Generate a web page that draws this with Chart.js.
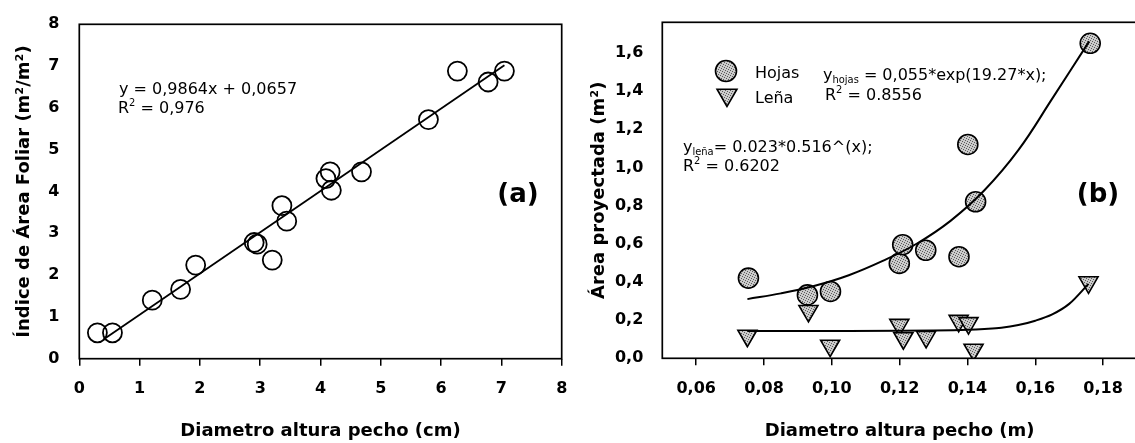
<!DOCTYPE html>
<html>
<head>
<meta charset="utf-8">
<script src="https://cdn.jsdelivr.net/npm/chart.js@4.4.1/dist/chart.umd.min.js"></script>
<style>
  html, body { margin: 0; padding: 0; background: #fff; overflow: hidden; width: 1135px; height: 443px; }
  canvas { position: absolute; top: 0; }
  #chartA { left: 0; }
  #chartB { left: 575px; }
</style>
</head>
<body>
<canvas id="chartA" width="575" height="443"></canvas>
<canvas id="chartB" width="575" height="443"></canvas>
<script>
// (a) indice de area foliar vs DAP
const DAP_CM = [0.30, 0.55, 1.21, 1.68, 1.93, 2.90, 2.95, 3.20, 3.36, 3.44, 4.09, 4.16, 4.18, 4.68, 5.79, 6.27, 6.78, 7.05];
const IAF = [0.62, 0.62, 1.40, 1.66, 2.24, 2.78, 2.74, 2.36, 3.66, 3.29, 4.31, 4.47, 4.03, 4.47, 5.72, 6.88, 6.62, 6.88];
const TREND_A_X = [0.40, 7.05];
const TREND_A_Y = [0.46, 7.02];
const TICKS_A = [0, 1, 2, 3, 4, 5, 6, 7, 8];

// (b) area proyectada vs DAP
const DAP_HOJAS = [0.0754, 0.0928, 0.0996, 0.1199, 0.1209, 0.1277, 0.1375, 0.1401, 0.1424, 0.1762];
const AREA_HOJAS = [0.42, 0.332, 0.35, 0.497, 0.595, 0.566, 0.532, 1.12, 0.82, 1.65];
const DAP_LENA = [0.0751, 0.0931, 0.0995, 0.1199, 0.1211, 0.1278, 0.1374, 0.1403, 0.1418, 0.1757];
const AREA_LENA = [0.118, 0.248, 0.066, 0.175, 0.105, 0.112, 0.196, 0.184, 0.045, 0.398];
const CURVE_HOJAS_X = [0.0751, 0.085, 0.095, 0.105, 0.115, 0.125, 0.135, 0.145, 0.155, 0.165, 0.1759];
const CURVE_HOJAS_Y = [0.31, 0.34, 0.38, 0.435, 0.51, 0.60, 0.72, 0.88, 1.09, 1.36, 1.66];
const CURVE_LENA_X = [0.0751, 0.09, 0.105, 0.12, 0.13, 0.14, 0.145, 0.15, 0.155, 0.16, 0.165, 0.17, 0.1757];
const CURVE_LENA_Y = [0.143, 0.143, 0.143, 0.144, 0.146, 0.15, 0.154, 0.16, 0.174, 0.197, 0.23, 0.285, 0.39];
const TICKS_BX = [0.06, 0.08, 0.10, 0.12, 0.14, 0.16, 0.18];
const TICKS_BY = [0, 0.2, 0.4, 0.6, 0.8, 1.0, 1.2, 1.4, 1.6];

const FONT = "'DejaVu Sans', sans-serif";
Chart.defaults.font.family = FONT;
Chart.defaults.color = "#000";
Chart.defaults.animation = false;

const pts = (xs, ys) => xs.map((x, i) => ({ x, y: ys[i] }));

// punteado gris de los simbolos
function stipple() {
  const c = document.createElement("canvas");
  c.width = 5; c.height = 5;
  const g = c.getContext("2d");
  g.fillStyle = "#cbcbcb";
  g.fillRect(0, 0, 5, 5);
  g.fillStyle = "#5a5a5a";
  [[0, 0], [2, 1], [4, 2], [1, 3], [3, 4]].forEach(([x, y]) => g.fillRect(x, y, 1, 1));
  return g.createPattern(c, "repeat");
}
const GRAY = stipple();

// texto con super/subindices: partes [texto, "n" | "sup" | "sub"]
function richText(ctx, x, y, parts, size) {
  let cx = x;
  ctx.textBaseline = "alphabetic";
  ctx.textAlign = "left";
  parts.forEach(([t, kind]) => {
    let s = size, dy = 0;
    if (kind === "sup") { s = size * 0.62; dy = -size * 0.42; }
    if (kind === "sub") { s = size * 0.62; dy = size * 0.2; }
    ctx.font = s + "px " + FONT;
    ctx.fillText(t, cx, y + dy);
    cx += ctx.measureText(t).width;
  });
}

function mark(ctx, style, x, y, r, rot) {
  ctx.save();
  ctx.fillStyle = GRAY;
  ctx.strokeStyle = "#000";
  ctx.lineWidth = 1.6;
  Chart.helpers.drawPoint(ctx, { pointStyle: style, radius: r, rotation: rot, borderWidth: 1.6 }, x, y);
  ctx.restore();
}

const framePlugin = {
  id: "frame",
  afterDatasetsDraw(chart) {
    const { ctx, chartArea: a } = chart;
    ctx.save();
    ctx.strokeStyle = "#000";
    ctx.lineWidth = 1.7;
    ctx.strokeRect(a.left, a.top, a.right - a.left, a.bottom - a.top);
    ctx.restore();
  },
};

function labelPlugin(draw) {
  return { id: "labels", afterDraw(chart) { const ctx = chart.ctx; ctx.save(); ctx.fillStyle = "#000"; draw(ctx); ctx.restore(); } };
}

// la separacion de las etiquetas va en lineHeight; el margen lateral lo fija layout.padding
function axisX(min, max, ticks, fmt, title, h) {
  return {
    type: "linear", min, max,
    afterBuildTicks: (s) => { s.ticks = ticks.map((v) => ({ value: v })); },
    afterFit: (s) => { s.height = h; s.paddingLeft = 0; s.paddingRight = 0; },
    ticks: { font: { size: 16, weight: "bold", lineHeight: 2.95 }, padding: 0, maxRotation: 0, autoSkip: false, callback: fmt },
    grid: { display: true, drawOnChartArea: false, drawTicks: true, tickLength: 7, color: "#000", lineWidth: 1.5 },
    border: { display: false },
    title: { display: true, text: title, font: { size: 18, weight: "bold" }, padding: { top: 0, bottom: 1 } },
  };
}

function axisY(min, max, ticks, fmt, title, w, pad, tpad) {
  return {
    type: "linear", min, max,
    afterBuildTicks: (s) => { s.ticks = ticks.map((v) => ({ value: v })); },
    afterFit: (s) => { s.width = w; },
    ticks: { font: { size: 16, weight: "bold" }, padding: pad, autoSkip: false, callback: fmt },
    grid: { display: false },
    border: { display: false },
    title: { display: true, text: title, font: { size: 18, weight: "bold" }, padding: { top: tpad, bottom: 0 } },
  };
}

const baseOptions = {
  responsive: false,
  devicePixelRatio: 1,
  plugins: { legend: { display: false }, tooltip: { enabled: false } },
};

// ---- (a)
new Chart(document.getElementById("chartA"), {
  type: "scatter",
  data: {
    datasets: [
      {
        data: pts(TREND_A_X, TREND_A_Y), showLine: true, pointRadius: 0,
        borderColor: "#000", borderWidth: 1.8, order: 0,
      },
      {
        data: pts(DAP_CM, IAF), pointRadius: 9.5, pointStyle: "circle",
        backgroundColor: "rgba(0,0,0,0)", borderColor: "#000", borderWidth: 1.8, order: 1,
      },
    ],
  },
  options: {
    ...baseOptions,
    layout: { padding: { left: 0, top: 24.3, right: 13.3, bottom: 0 } },
    scales: {
      x: axisX(0, 8, TICKS_A, (v) => String(v), "Diametro altura pecho (cm)", 84.3),
      y: axisY(0, 8, TICKS_A, (v) => String(v), "Índice de Área Foliar (m²/m²)", 79.3, 12, 14),
    },
  },
  plugins: [framePlugin, labelPlugin((ctx) => {
    richText(ctx, 119, 94, [["y = 0,9864x + 0,0657", "n"]], 16);
    richText(ctx, 118, 113, [["R", "n"], ["2", "sup"], [" = 0,976", "n"]], 16);
    ctx.font = "bold 26px " + FONT;
    ctx.textAlign = "center";
    ctx.textBaseline = "middle";
    ctx.fillText("(a)", 518, 195);
  })],
});

// ---- (b)
const OX = 575;
const fmt2 = (v) => v.toFixed(2).replace(".", ",");
const fmt1 = (v) => v.toFixed(1).replace(".", ",");

new Chart(document.getElementById("chartB"), {
  type: "scatter",
  data: {
    datasets: [
      {
        label: "curva hojas", data: pts(CURVE_HOJAS_X, CURVE_HOJAS_Y), showLine: true, pointRadius: 0,
        borderColor: "#000", borderWidth: 2, tension: 0.4, order: 0,
      },
      {
        label: "curva leña", data: pts(CURVE_LENA_X, CURVE_LENA_Y), showLine: true, pointRadius: 0,
        borderColor: "#000", borderWidth: 2, cubicInterpolationMode: "monotone", order: 0,
      },
      {
        label: "Hojas", data: pts(DAP_HOJAS, AREA_HOJAS), pointStyle: "circle", pointRadius: 10,
        backgroundColor: GRAY, borderColor: "#000", borderWidth: 1.6, order: 1,
      },
      {
        label: "Leña", data: pts(DAP_LENA, AREA_LENA), pointStyle: "triangle", pointRotation: 180, pointRadius: 11,
        backgroundColor: GRAY, borderColor: "#000", borderWidth: 1.6, order: 2,
      },
    ],
  },
  options: {
    ...baseOptions,
    layout: { padding: { left: 0, top: 22.3, right: 13, bottom: 0 } },
    scales: {
      x: axisX(0.05, 0.19, TICKS_BX, fmt2, "Diametro altura pecho (m)", 84.7),
      y: axisY(0, 1.76, TICKS_BY, fmt1, "Área proyectada (m²)", 87.3, 11, 13.2),
    },
  },
  plugins: [framePlugin, labelPlugin((ctx) => {
    // leyenda
    mark(ctx, "circle", 726 - OX, 71, 10.5, 0);
    mark(ctx, "triangle", 727 - OX, 95, 11.5, 180);
    richText(ctx, 755 - OX, 77.5, [["Hojas", "n"]], 16);
    richText(ctx, 755 - OX, 103, [["Leña", "n"]], 16);
    // ecuaciones
    richText(ctx, 823 - OX, 80, [["y", "n"], ["hojas", "sub"], [" = 0,055*exp(19.27*x);", "n"]], 16);
    richText(ctx, 825 - OX, 100, [["R", "n"], ["2", "sup"], [" = 0.8556", "n"]], 16);
    richText(ctx, 683 - OX, 152, [["y", "n"], ["leña", "sub"], ["= 0.023*0.516^(x);", "n"]], 16);
    richText(ctx, 683 - OX, 171, [["R", "n"], ["2", "sup"], [" = 0.6202", "n"]], 16);
    ctx.font = "bold 26px " + FONT;
    ctx.textAlign = "center";
    ctx.textBaseline = "middle";
    ctx.fillText("(b)", 1098 - OX, 195);
  })],
});
</script>
</body>
</html>
